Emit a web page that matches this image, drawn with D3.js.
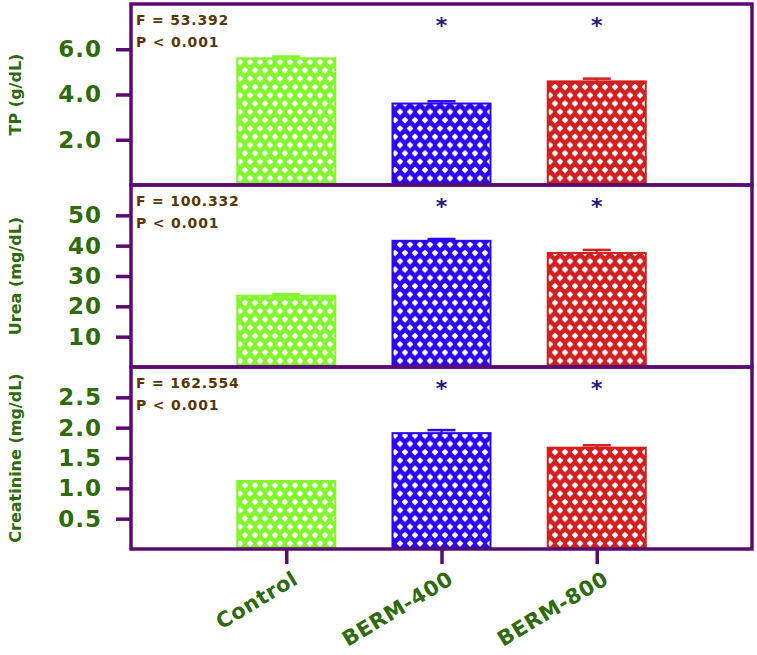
<!DOCTYPE html>
<html>
<head>
<meta charset="utf-8">
<script src="https://cdn.jsdelivr.net/npm/d3@7/dist/d3.min.js"></script>
<style>
  html, body { margin: 0; padding: 0; background: #ffffff; }
  svg { display: block; }
</style>
</head>
<body>
<svg id="chart" width="757" height="655"></svg>
<script>
// ---------------- data ----------------
const categories = ["Control", "BERM-400", "BERM-800"];
const barColors = ["#82f52c", "#2a06f4", "#d21f1f"];

const tpValues = [5.6, 3.6, 4.58];
const tpErrors = [0.08, 0.1, 0.12];
const tpTicks = [2.0, 4.0, 6.0];

const ureaValues = [23.5, 41.6, 37.6];
const ureaErrors = [0.5, 0.6, 1.0];
const ureaTicks = [10, 20, 30, 40, 50];

const creatValues = [1.12, 1.91, 1.67];
const creatErrors = [0.0, 0.05, 0.04];
const creatTicks = [0.5, 1.0, 1.5, 2.0, 2.5];

const significant = [false, true, true];

const panels = [
  { title: "TP (g/dL)", values: tpValues, errors: tpErrors, ticks: tpTicks, max: 8, fmt: d3.format(".1f"),
    fText: "F = 53.392", pText: "P < 0.001" },
  { title: "Urea (mg/dL)", values: ureaValues, errors: ureaErrors, ticks: ureaTicks, max: 60, fmt: d3.format("d"),
    fText: "F = 100.332", pText: "P < 0.001" },
  { title: "Creatinine (mg/dL)", values: creatValues, errors: creatErrors, ticks: creatTicks, max: 3, fmt: d3.format(".1f"),
    fText: "F = 162.554", pText: "P < 0.001" }
];

// ---------------- layout ----------------
const svg = d3.select("#chart");
const left = 131, right = 752;
const panelTops = [4, 185, 367];
const panelBottoms = [185, 367, 549];
const frameColor = "#5a0a72";
const labelGreen = "#2f6a0c";
const fpColor = "#5a3608";
const starColor = "#2b1580";
const fontFam = "'DejaVu Sans', 'Liberation Sans', sans-serif";

const x = d3.scalePoint().domain(categories).range([left, right]).padding(1);
const barW = 98;
const capW = 28;

// patterns
const defs = svg.append("defs");
barColors.forEach((c, i) => {
  const p = defs.append("pattern")
    .attr("id", "pat" + i)
    .attr("patternUnits", "userSpaceOnUse")
    .attr("width", 10).attr("height", 16.6);
  p.append("rect").attr("width", 10).attr("height", 16.6).attr("fill", c);
  const holes = [[5, 4], [0, 12.3], [10, 12.3]];
  const r = 3.3;
  holes.forEach(h => {
    p.append("path")
      .attr("d", `M${h[0]},${h[1]-r} Q${h[0]+r*0.55},${h[1]-r*0.55} ${h[0]+r},${h[1]} Q${h[0]+r*0.55},${h[1]+r*0.55} ${h[0]},${h[1]+r} Q${h[0]-r*0.55},${h[1]+r*0.55} ${h[0]-r},${h[1]} Q${h[0]-r*0.55},${h[1]-r*0.55} ${h[0]},${h[1]-r} Z`)
      .attr("fill", "#ffffff");
  });
});

panels.forEach((pn, pi) => {
  const top = panelTops[pi], bottom = panelBottoms[pi];
  const y = d3.scaleLinear().domain([0, pn.max]).range([bottom, top]);
  const g = svg.append("g");

  // bars
  g.selectAll("rect.bar").data(pn.values).enter().append("rect")
    .attr("class", "bar")
    .attr("x", (d, i) => x(categories[i]) - barW / 2)
    .attr("width", barW)
    .attr("y", d => y(d))
    .attr("height", d => bottom - y(d))
    .attr("fill", (d, i) => `url(#pat${i})`)
    .attr("stroke", (d, i) => barColors[i])
    .attr("stroke-width", 2);

  // error bars
  pn.values.forEach((v, i) => {
    const e = pn.errors[i];
    if (e <= 0) return;
    const cx = x(categories[i]);
    g.append("line")
      .attr("x1", cx).attr("x2", cx)
      .attr("y1", y(v)).attr("y2", y(v + e))
      .attr("stroke", barColors[i]).attr("stroke-width", 2);
    g.append("line")
      .attr("x1", cx - capW / 2).attr("x2", cx + capW / 2)
      .attr("y1", y(v + e)).attr("y2", y(v + e))
      .attr("stroke", barColors[i]).attr("stroke-width", 2.5);
  });

  // frame
  g.append("rect")
    .attr("x", left).attr("y", top)
    .attr("width", right - left).attr("height", bottom - top)
    .attr("fill", "none").attr("stroke", frameColor).attr("stroke-width", 3.5);

  // y axis
  const yAxis = d3.axisLeft(y).tickValues(pn.ticks).tickFormat(pn.fmt).tickSize(15).tickPadding(14);
  const ag = g.append("g").attr("transform", `translate(${left},0)`).call(yAxis);
  ag.select(".domain").remove();
  ag.selectAll(".tick line").attr("stroke", frameColor).attr("stroke-width", 3.5);
  ag.selectAll(".tick text")
    .attr("fill", labelGreen)
    .style("font-family", fontFam)
    .style("font-weight", "bold")
    .style("font-size", "23px")
    .style("letter-spacing", "1px");

  // y title
  g.append("text")
    .attr("transform", `translate(21,${(top + bottom) / 2}) rotate(-90)`)
    .attr("text-anchor", "middle")
    .attr("fill", labelGreen)
    .style("font-family", fontFam)
    .style("font-weight", "bold")
    .style("font-size", "16px")
    .text(pn.title);

  // F / P
  g.append("text").attr("x", 136).attr("y", top + 21)
    .attr("fill", fpColor).style("font-family", fontFam).style("font-weight", "bold").style("font-size", "14px")
    .style("letter-spacing", "0.8px")
    .text(pn.fText);
  g.append("text").attr("x", 136).attr("y", top + 43)
    .attr("fill", fpColor).style("font-family", fontFam).style("font-weight", "bold").style("font-size", "14px")
    .style("letter-spacing", "0.8px")
    .text(pn.pText);

  // asterisks
  significant.forEach((s, i) => {
    if (!s) return;
    g.append("text")
      .attr("x", x(categories[i]))
      .attr("y", top + 29)
      .attr("text-anchor", "middle")
      .attr("fill", starColor)
      .style("font-family", fontFam)
      .style("font-weight", "bold")
      .style("font-size", "22px")
      .text("*");
  });
});

// x axis ticks and labels
const xAxis = d3.axisBottom(x).tickSize(15).tickFormat(d => d).tickPadding(0);
const xg = svg.append("g").attr("transform", `translate(0,${panelBottoms[2]})`).call(xAxis);
xg.select(".domain").remove();
xg.selectAll(".tick line").attr("stroke", frameColor).attr("stroke-width", 3.5);
xg.selectAll(".tick text")
  .attr("fill", labelGreen)
  .style("font-family", fontFam)
  .style("font-weight", "bold")
  .style("font-size", "21px")
  .style("letter-spacing", "0.6px")
  .attr("text-anchor", "end")
  .attr("dy", 0)
  .attr("transform", "translate(5,21) rotate(-31)");
</script>
</body>
</html>
